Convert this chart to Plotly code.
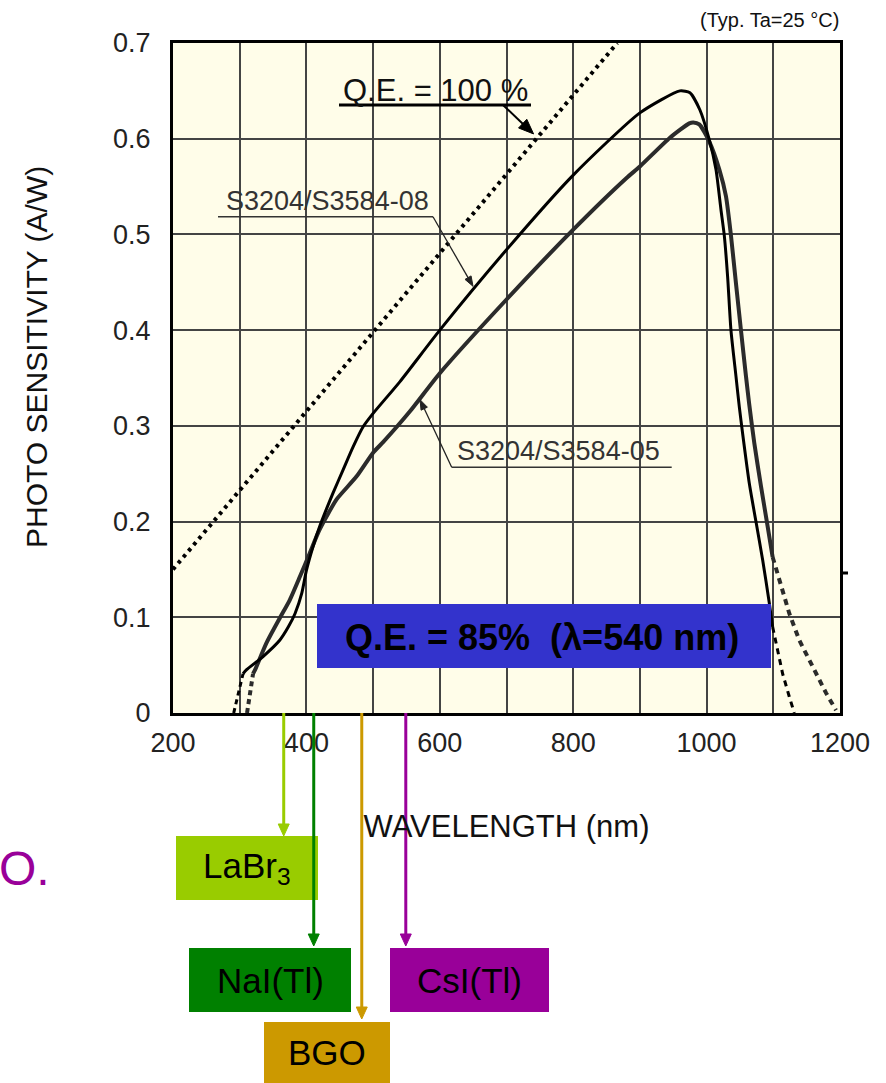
import math
import plotly.graph_objects as go

# ---------------- data ----------------
# S3204/S3584-08 (black, solid part)
wl_08 = [305, 310, 335, 360, 373, 383, 393, 400, 410, 420, 430, 440, 455, 470, 485, 500,
         540, 600, 700, 800, 900, 960, 975, 990, 1004, 1014, 1021.5, 1026.5, 1031.5, 1036.5,
         1044, 1049, 1054, 1064, 1074, 1084, 1094, 1099]
sens_08 = [0.041, 0.045, 0.059, 0.076, 0.090, 0.104, 0.125, 0.149, 0.174, 0.195, 0.213, 0.230,
           0.254, 0.278, 0.299, 0.313, 0.346, 0.400, 0.484, 0.562, 0.627, 0.650, 0.648, 0.630,
           0.599, 0.568, 0.526, 0.499, 0.456, 0.400, 0.352, 0.320, 0.292, 0.240, 0.200, 0.160,
           0.115, 0.090]
wl_08_lo = [291, 298, 305]
sens_08_lo = [0.0, 0.020, 0.041]
wl_08_hi = [1099, 1106.5, 1114, 1124, 1131.5]
sens_08_hi = [0.090, 0.066, 0.041, 0.017, 0.0]

# S3204/S3584-05 (dark grey, solid part)
wl_05 = [320, 323, 340, 360, 375, 390, 405, 418, 430, 445, 475, 500, 515, 555, 600, 700, 800,
         880, 900, 945, 974, 980, 989, 1004, 1019, 1029, 1036.5, 1044, 1051.5, 1059, 1064,
         1071.5, 1081.5, 1091.5, 1099]
sens_05 = [0.041, 0.045, 0.073, 0.099, 0.118, 0.142, 0.167, 0.189, 0.205, 0.223, 0.247, 0.272,
           0.283, 0.315, 0.355, 0.432, 0.505, 0.559, 0.571, 0.601, 0.616, 0.617, 0.615, 0.597,
           0.568, 0.540, 0.499, 0.449, 0.400, 0.352, 0.322, 0.282, 0.237, 0.195, 0.163]
wl_05_lo = [311, 316, 320]
sens_05_lo = [0.0, 0.020, 0.041]
wl_05_hi = [1099, 1109, 1124, 1139, 1159, 1179, 1194]
sens_05_hi = [0.163, 0.139, 0.104, 0.076, 0.048, 0.021, 0.003]

# Q.E. = 100 % reference line
wl_qe100 = [200, 866]
sens_qe100 = [0.150, 0.700]

# axis ticks
x_tickvals = [200, 400, 600, 800, 1000, 1200]
x_ticktext = ["200", "400", "600", "800", "1000", "1200"]
y_tickvals = [0, 0.1, 0.2, 0.3, 0.4, 0.5, 0.6, 0.7]
y_ticktext = ["0", "0.1", "0.2", "0.3", "0.4", "0.5", "0.6", "0.7"]

# scintillator emission peaks (nm)
crystal_names = ["LaBr<sub>3</sub>", "NaI(Tl)", "BGO", "CsI(Tl)"]
crystal_wl = [366, 411, 483, 549]
crystal_colors = ["#99CC00", "#008000", "#CC9900", "#990099"]

# ---------------- layout geometry ----------------
W, H = 886, 1083
ML, MR, MT, MB = 173, 46, 43, 370
PW, PH = W - ML - MR, H - MT - MB
X0, X1, Y0, Y1 = 200, 1200, 0.0, 0.7


def px(xp):
    return (xp - ML) / PW


def py(yp):
    return (H - MB - yp) / PH


def dx(v):  # data x -> pixel
    return ML + (v - X0) / (X1 - X0) * PW


def dy(v):  # data y -> pixel
    return H - MB - (v - Y0) / (Y1 - Y0) * PH


FONT = "Liberation Sans, Arial, Helvetica, sans-serif"

fig = go.Figure()

curve_style = dict(mode="lines", hoverinfo="skip", showlegend=False)
fig.add_trace(go.Scatter(x=wl_qe100, y=sens_qe100,
                         line=dict(color="black", width=4, dash="3.5px,4.5px"), **curve_style))
fig.add_trace(go.Scatter(x=wl_05, y=sens_05,
                         line=dict(color="#2b2b2b", width=4, shape="spline", smoothing=0.6),
                         **curve_style))
fig.add_trace(go.Scatter(x=wl_05_lo, y=sens_05_lo,
                         line=dict(color="#2b2b2b", width=4, dash="5px,4px"), **curve_style))
fig.add_trace(go.Scatter(x=wl_05_hi, y=sens_05_hi,
                         line=dict(color="#2b2b2b", width=4, dash="6px,5px"), **curve_style))
fig.add_trace(go.Scatter(x=wl_08, y=sens_08,
                         line=dict(color="black", width=3, shape="spline", smoothing=0.6),
                         **curve_style))
fig.add_trace(go.Scatter(x=wl_08_lo, y=sens_08_lo,
                         line=dict(color="black", width=3, dash="5px,4px"), **curve_style))
fig.add_trace(go.Scatter(x=wl_08_hi, y=sens_08_hi,
                         line=dict(color="black", width=3, dash="6px,5px"), **curve_style))

shapes = []
annotations = []


def arrow(xt, yt, xh, yh, color, width, headlen, halfw):
    """Arrow from tail (xt,yt) to head tip (xh,yh), all in pixels."""
    L = math.hypot(xh - xt, yh - yt)
    ux, uy = (xh - xt) / L, (yh - yt) / L
    bx, by = xh - ux * headlen, yh - uy * headlen
    shapes.append(dict(type="line", xref="paper", yref="paper",
                       x0=px(xt), y0=py(yt), x1=px(bx + ux * 1.5), y1=py(by + uy * 1.5),
                       line=dict(color=color, width=width)))
    p1 = (bx - uy * halfw, by + ux * halfw)
    p2 = (bx + uy * halfw, by - ux * halfw)
    path = "M{:.5f},{:.5f} L{:.5f},{:.5f} L{:.5f},{:.5f} Z".format(
        px(xh), py(yh), px(p1[0]), py(p1[1]), px(p2[0]), py(p2[1]))
    shapes.append(dict(type="path", xref="paper", yref="paper", path=path,
                       fillcolor=color, line=dict(color=color, width=1)))


def label(xp, yp, text, size, color, bold=False, angle=0, xanchor="center"):
    annotations.append(dict(x=px(xp), y=py(yp), xref="paper", yref="paper",
                            text=("<b>%s</b>" % text) if bold else text, showarrow=False,
                            xanchor=xanchor, yanchor="middle", textangle=angle,
                            font=dict(family=FONT, size=size, color=color)))


# Q.E. = 100 % label with underline and arrow
label(435, 90, "Q.E. = 100 %", 31, "#111")
shapes.append(dict(type="line", xref="paper", yref="paper", x0=px(339), x1=px(531),
                   y0=py(105), y1=py(105), line=dict(color="black", width=3)))
arrow(503, 105, dx(740.6), dy(0.605), "black", 2, 15, 6)

# S3204/S3584-08 label
label(327, 201, "S3204/S3584-08", 27, "#333")
shapes.append(dict(type="line", xref="paper", yref="paper", x0=px(218), x1=px(433),
                   y0=py(216.7), y1=py(216.7), line=dict(color="#333", width=1.5)))
arrow(433, 216.7, dx(649.8), dy(0.4458), "#222", 1.3, 10, 3.5)

# S3204/S3584-05 label
label(558, 451, "S3204/S3584-05", 27, "#333")
shapes.append(dict(type="line", xref="paper", yref="paper", x0=px(451.7), x1=px(671.7),
                   y0=py(467.3), y1=py(467.3), line=dict(color="#333", width=1.5)))
arrow(451.7, 467.3, dx(570.3), dy(0.3274), "#222", 1.3, 10, 3.5)

# Blue Q.E. = 85 % box
shapes.append(dict(type="rect", xref="paper", yref="paper", x0=px(317), x1=px(771),
                   y0=py(668), y1=py(604), fillcolor="#3333CC", line=dict(width=0),
                   layer="above"))
label(542, 637, "Q.E. = 85%\u00a0\u00a0(\u03bb=540 nm)", 36, "black", bold=True)

# small mark right of the frame
shapes.append(dict(type="line", xref="paper", yref="paper", x0=px(841), x1=px(848),
                   y0=py(573), y1=py(573), line=dict(color="black", width=3)))

# axis y title, header and stray text
label(37, 357, "PHOTO SENSITIVITY (A/W)", 30, "#111", angle=-90)
label(841, 20, "(Typ. Ta=25 \u00b0C)", 20, "#111", xanchor="right")
label(52, 868, "O.", 48, "#990099", xanchor="right")

# scintillator boxes (pixel rectangles) and arrows
box_px = [(176, 318, 836, 900), (189, 351, 948, 1012), (264, 390, 1022, 1083),
          (390, 549, 948, 1012)]
tip_px = [836, 946, 1019, 946]
for name, wl, col, (x0, x1, y0, y1) in zip(crystal_names, crystal_wl, crystal_colors, box_px):
    shapes.append(dict(type="rect", xref="paper", yref="paper", x0=px(x0), x1=px(x1),
                       y0=py(y1), y1=py(y0), fillcolor=col, line=dict(width=0)))
for name, wl, col, tip in zip(crystal_names, crystal_wl, crystal_colors, tip_px):
    arrow(dx(wl), H - MB, dx(wl), tip, col, 3, 12, 5.5)
for name, wl, col, (x0, x1, y0, y1) in zip(crystal_names, crystal_wl, crystal_colors, box_px):
    label((x0 + x1) / 2, (y0 + y1) / 2, name, 35, "black")

fig.update_layout(
    width=W, height=H,
    margin=dict(l=ML, r=MR, t=MT, b=MB, pad=0),
    paper_bgcolor="white",
    plot_bgcolor="#FFFDE9",
    shapes=shapes,
    annotations=annotations,
    xaxis=dict(range=[X0, X1], tickvals=x_tickvals, ticktext=x_ticktext,
               showgrid=True, gridcolor="#444", gridwidth=1.5, zeroline=False,
               minor=dict(dtick=100, tick0=200, showgrid=True, gridcolor="#444",
                          gridwidth=1.5, ticks=""),
               showline=True, linecolor="black", linewidth=3, mirror=True, ticks="",
               tickfont=dict(family=FONT, size=27, color="#222"), ticklabelstandoff=4,
               title=dict(text="WAVELENGTH (nm)", standoff=58,
                          font=dict(family=FONT, size=31, color="#111"))),
    yaxis=dict(range=[Y0, Y1], tickvals=y_tickvals, ticktext=y_ticktext,
               showgrid=True, gridcolor="#444", gridwidth=1.5, zeroline=False,
               showline=True, linecolor="black", linewidth=3, mirror=True, ticks="",
               tickfont=dict(family=FONT, size=27, color="#222"), ticklabelstandoff=14),
)

fig.write_html("out.html", config={"displayModeBar": False},
               post_script="document.body.style.margin='0px';"
                           "document.body.style.overflow='hidden';")
